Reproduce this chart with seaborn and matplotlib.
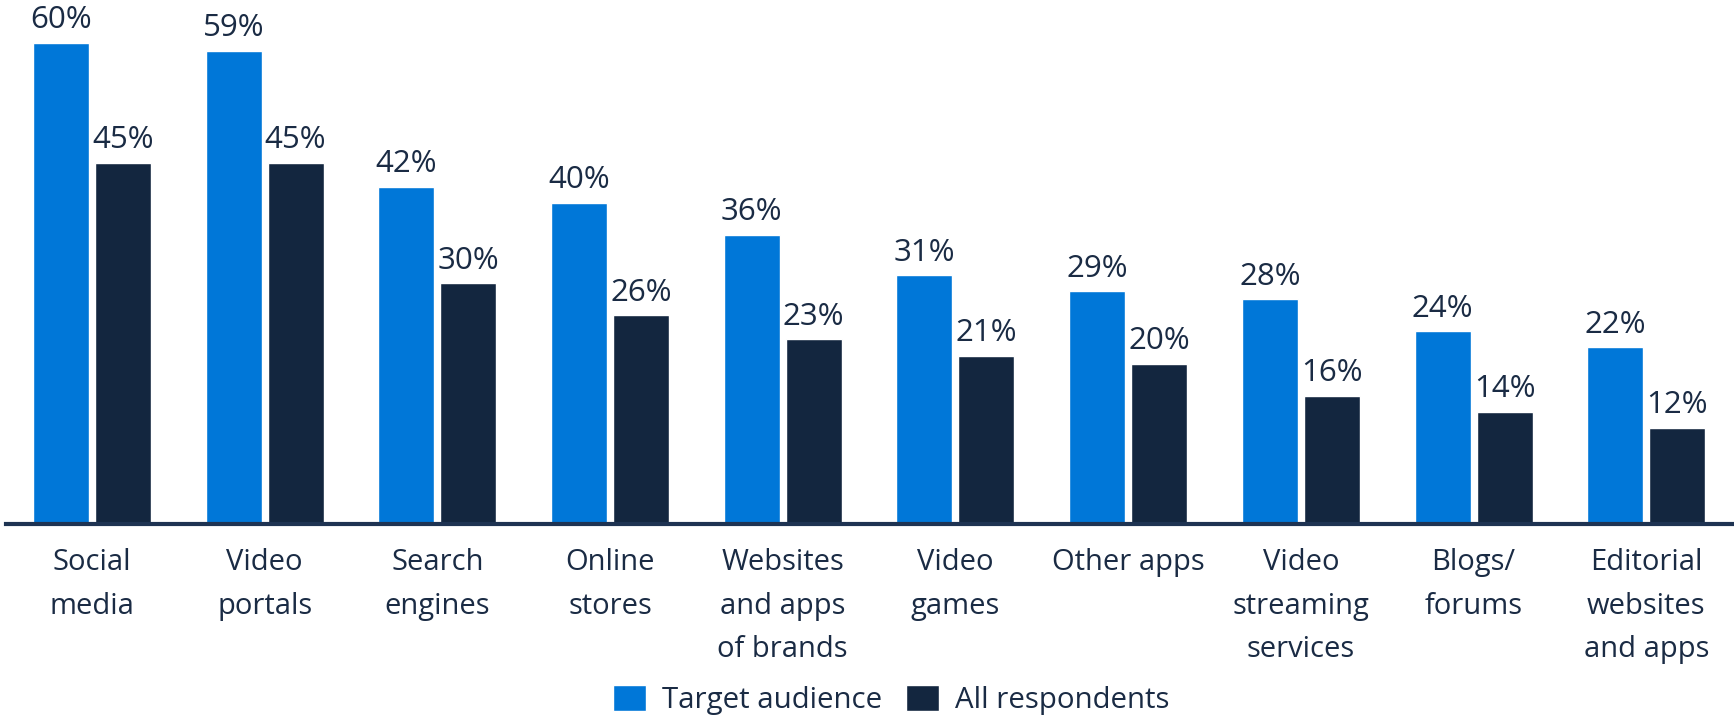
import matplotlib
matplotlib.use("Agg")
import matplotlib.pyplot as plt
import seaborn as sns
import pandas as pd
from matplotlib.patches import Patch

categories = [
    "Social\nmedia", "Video\nportals", "Search\nengines", "Online\nstores",
    "Websites\nand apps\nof brands", "Video\ngames", "Other apps",
    "Video\nstreaming\nservices", "Blogs/\nforums", "Editorial\nwebsites\nand apps",
]
target_audience = [60, 59, 42, 40, 36, 31, 29, 28, 24, 22]
all_respondents = [45, 45, 30, 26, 23, 21, 20, 16, 14, 12]
series_names = ["Target audience", "All respondents"]

BLUE = "#0077D8"
NAVY = "#13263F"
TEXT = "#1A2B44"

df = pd.DataFrame({
    "category": categories * 2,
    "series": [series_names[0]] * len(categories) + [series_names[1]] * len(categories),
    "value": target_audience + all_respondents,
})

sns.set_style("white")
plt.rcParams["font.family"] = ["Open Sans", "DejaVu Sans"]

fig = plt.figure(figsize=(17.34, 7.21), dpi=100)
ax = fig.add_axes([0.0032, 0.2732, 0.996, 0.7268])

sns.barplot(
    data=df, x="category", y="value", hue="series",
    palette=[BLUE, NAVY], width=0.718, gap=0.097,
    saturation=1, ax=ax, legend=False,
)

ax.set_xlim(-0.5, 9.5)
ax.set_ylim(0, 65.3)
ax.set_xlabel("")
ax.set_ylabel("")
ax.set_yticks([])
for side in ["top", "right", "left"]:
    ax.spines[side].set_visible(False)
ax.spines["bottom"].set_color("#1E3352")
ax.spines["bottom"].set_linewidth(3)
ax.tick_params(axis="x", length=0, pad=17.5, labelsize=21, colors=TEXT)
for lbl in ax.get_xticklabels():
    lbl.set_linespacing(1.66)
    lbl.set_verticalalignment("top")

for container in ax.containers:
    ax.bar_label(container, labels=[f"{v:.0f}%" for v in container.datavalues],
                 padding=5.5, fontsize=22.5, color=TEXT)

handles = [Patch(facecolor=BLUE, label=series_names[0]),
           Patch(facecolor=NAVY, label=series_names[1])]
fig.legend(handles=handles, loc="center", bbox_to_anchor=(0.514, 0.029),
           ncol=2, frameon=False, fontsize=21.2, labelcolor=TEXT,
           handlelength=1.12, handleheight=0.95, handletextpad=0.55,
           columnspacing=0.8, borderpad=0)

fig.savefig("out.png", dpi=100)
